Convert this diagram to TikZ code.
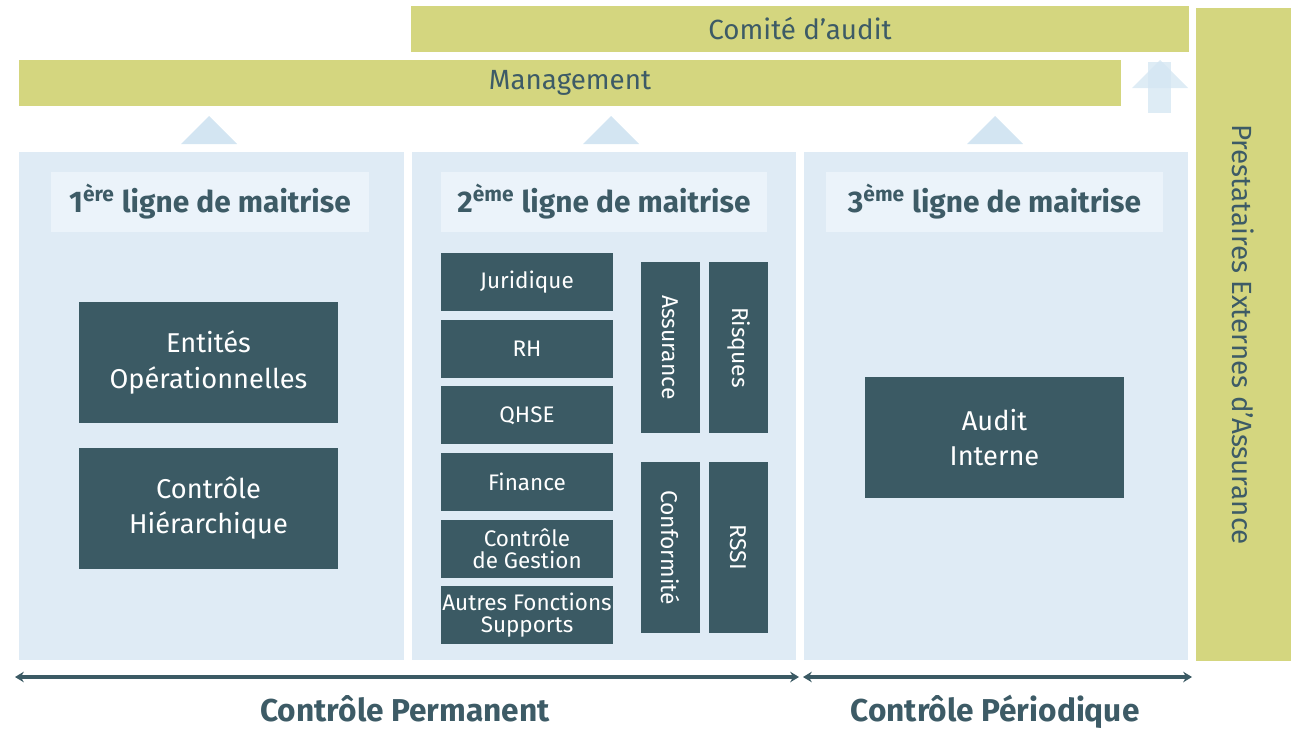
\documentclass[tikz,border=0pt]{standalone}
\usepackage{fontspec}
\setmainfont{Fira Sans}
\usetikzlibrary{arrows.meta,positioning}
\definecolor{olive}{HTML}{D4D67F}
\definecolor{panel}{HTML}{DFEBF5}
\definecolor{headbg}{HTML}{EBF3FA}
\definecolor{dark}{HTML}{3B5A64}
\definecolor{ink}{HTML}{3D5B66}
\definecolor{tri}{HTML}{D3E5F2}

\begin{document}
\begin{tikzpicture}[x=0.02cm,y=-0.02cm,node distance=0.16cm,
    bar/.style={fill=olive,inner sep=0pt,text=ink,font=\fontsize{15.8}{18}\selectfont},
    col/.style={fill=panel,inner sep=0pt,minimum width=7.7cm,minimum height=10.16cm},
    head/.style={fill=headbg,inner sep=0pt,minimum height=1.2cm,text=ink,font=\bfseries\fontsize{17}{19}\selectfont},
    big/.style={fill=dark,text=white,inner sep=0pt,minimum width=5.18cm,minimum height=2.42cm,align=center,font=\fontsize{15.5}{20}\selectfont},
    fct/.style={fill=dark,text=white,inner sep=0pt,minimum width=3.44cm,minimum height=1.16cm,align=center,font=\fontsize{12.8}{12.5}\selectfont},
    vfct/.style={fill=dark,text=white,inner sep=0pt,rotate=-90,minimum width=3.42cm,minimum height=1.18cm,font=\fontsize{13}{13}\selectfont},
    span/.style={{Stealth[length=5pt,width=6pt]}-{Stealth[length=5pt,width=6pt]},draw=dark,line width=2.2pt},
    lbl/.style={text=ink,anchor=base,inner sep=0pt,font=\bfseries\fontsize{18}{20}\selectfont}]
    \useasboundingbox (0,0) rectangle (1291,730);
    % bandeaux du haut
    \node[bar,minimum width=15.56cm,minimum height=0.92cm] (comite) at (800,29) {Comité d’audit};
    \node[bar,minimum width=22.04cm,minimum height=0.92cm] (mgmt) at (570,83) {Management};
    \node[bar,rotate=-90,minimum width=13.06cm,minimum height=1.9cm] (prest) at (1243.5,334.5) {Prestataires Externes d’Assurance};
    % fleches vers le haut
    \foreach \cx in {209,611,995}
      \fill[tri] (\cx-28,144) -- (\cx,116) -- (\cx+28,144) -- cycle;
    \fill[tri,opacity=0.75] (1148,113) rectangle (1171,62);
    \fill[tri,opacity=0.75] (1132,88) -- (1160,60) -- (1188,88) -- cycle;
    % colonnes
    \node[col] (c1) at (211.5,406) {};
    \node[col] (c2) at (604,406) {};
    \node[col] (c3) at (996,406) {};
    \node[head,minimum width=6.36cm] (h1) at (210,202) {1\textsuperscript{ère} ligne de maitrise};
    \node[head,minimum width=6.52cm] (h2) at (604,202) {2\textsuperscript{ème} ligne de maitrise};
    \node[head,minimum width=6.74cm] (h3) at (994.5,202) {3\textsuperscript{ème} ligne de maitrise};
    % 1ere ligne
    \node[big] (ent) at (208.5,362.5) {Entités\\Opérationnelles};
    \node[big] (hier) at (208.5,508.5) {Contrôle\\Hiérarchique};
    % 2eme ligne
    \node[fct] (jur) at (527,282) {Juridique};
    \node[fct,below=of jur] (rh) {RH};
    \node[fct,below=of rh] (qhse) {QHSE};
    \node[fct,below=of qhse] (fin) {Finance};
    \node[fct,below=of fin] (cdg) {Contrôle\\de Gestion};
    \node[fct,below=of cdg] (aut) {Autres Fonctions\\Supports};
    \node[vfct] (ass) at (670.5,347.5) {Assurance};
    \node[vfct] (risq) at (738.5,347.5) {Risques};
    \node[vfct] (conf) at (670.5,547.5) {Conformité};
    \node[vfct] (rssi) at (738.5,547.5) {RSSI};
    % 3eme ligne
    \node[big] (audit) at (994.5,437.5) {Audit\\Interne};
    % controles
    \coordinate (p0) at (15,677);
    \coordinate (p1) at (799,677);
    \coordinate (p2) at (803,677);
    \coordinate (p3) at (1192,677);
    \draw[span] (p0) -- (p1);
    \draw[span] (p2) -- (p3);
    \node[lbl] (perm) at (405,721) {Contrôle Permanent};
    \node[lbl] (peri) at (995,721) {Contrôle Périodique};
  \end{tikzpicture}
\end{document}
